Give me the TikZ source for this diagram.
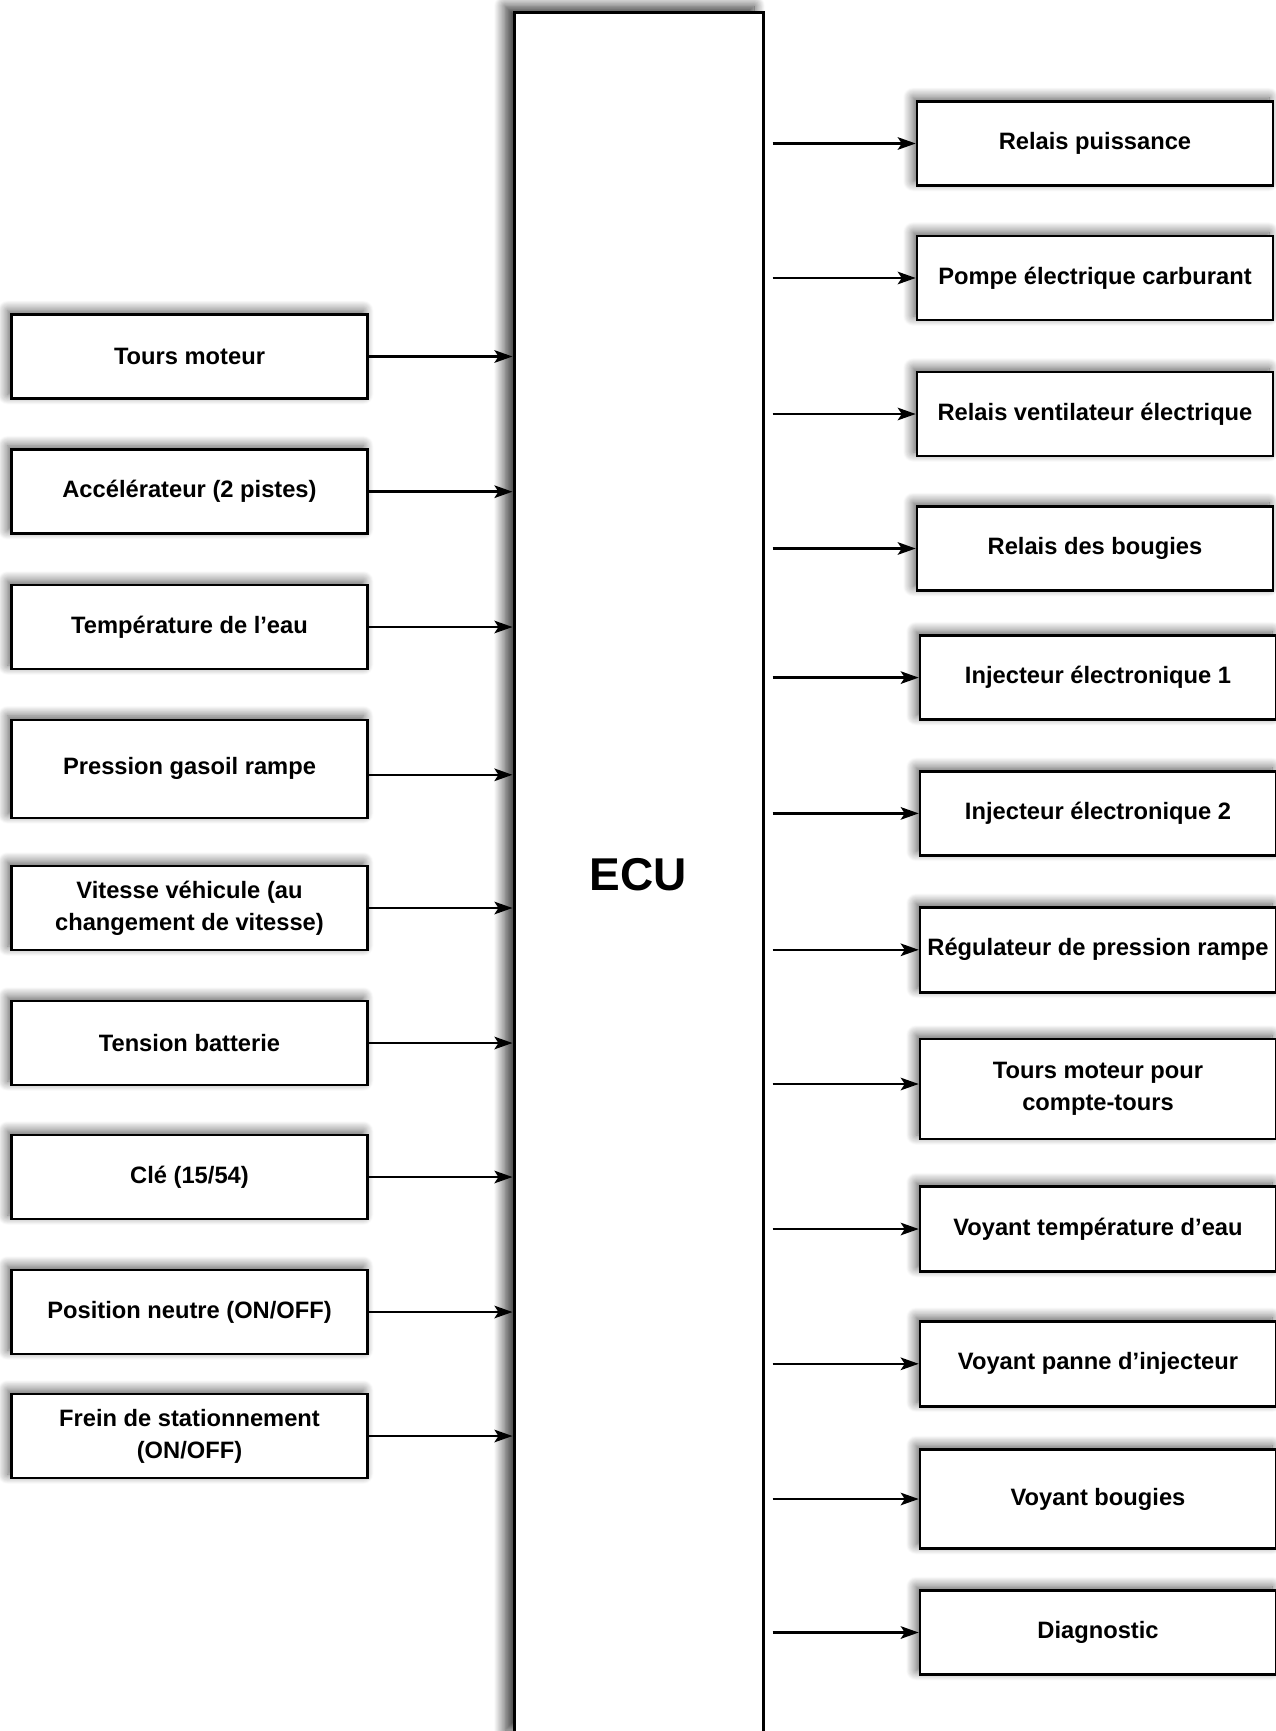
\documentclass[tikz,border=0pt]{standalone}
\usepackage{fontspec}
\setmainfont{Liberation Sans}
\usetikzlibrary{arrows.meta,shadows.blur,calc}
\begin{document}
\begin{tikzpicture}[x=1pt,y=-1pt,
  shad/.style={blur shadow={shadow xshift=-4pt,shadow yshift=4pt,shadow blur radius=10pt,shadow blur steps=14,shadow opacity=65}},
  box/.style={draw,line width=2.5pt,fill=white,shad,minimum width=356pt,minimum height=84pt,
    inner sep=0pt,align=center,font=\fontsize{23.7}{32}\selectfont\bfseries},
  ecubox/.style={draw,line width=3pt,fill=white,
    blur shadow={shadow xshift=-9pt,shadow yshift=7pt,shadow blur radius=11pt,shadow blur steps=14,shadow opacity=80},
    minimum width=249pt,minimum height=1724pt,inner sep=0pt,font=\fontsize{46}{50}\selectfont\bfseries},
  conn/.style={line width=2.5pt,-{Stealth[length=18pt,width=12.5pt,inset=4pt]}}]
\useasboundingbox (0,0) rectangle (1275,1731);
\node[ecubox] (ecu) at (638.5,875) {ECU};
% inputs
\node[box] (L1) at (189.5,356.5) {Tours moteur};
\node[box] (L2) at (189.5,491.7) {Accélérateur (2 pistes)};
\node[box] (L3) at (189.5,627) {Température de l’eau};
\node[box,minimum height=98pt] (L4) at (189.5,768.8) {Pression gasoil rampe};
\node[box] (L5) at (189.5,908) {Vitesse véhicule (au\\changement de vitesse)};
\node[box] (L6) at (189.5,1043) {Tension batterie};
\node[box] (L7) at (189.5,1177) {Clé (15/54)};
\node[box] (L8) at (189.5,1312) {Position neutre (ON/OFF)};
\node[box] (L9) at (189.5,1436) {Frein de stationnement\\(ON/OFF)};
% outputs
\node[box] (R1) at (1095,143.5) {Relais puissance};
\node[box] (R2) at (1095,278) {Pompe électrique carburant};
\node[box] (R3) at (1095,414) {Relais ventilateur électrique};
\node[box] (R4) at (1095,548.5) {Relais des bougies};
\node[box] (R5) at (1098,677.6) {Injecteur électronique 1};
\node[box] (R6) at (1098,813.4) {Injecteur électronique 2};
\node[box,minimum height=85pt] (R7) at (1098,949.8) {Régulateur de pression rampe};
\node[box,minimum height=100pt] (R8) at (1098,1089) {Tours moteur pour\\compte-tours};
\node[box,minimum height=85pt] (R9) at (1098,1229) {Voyant température d’eau};
\node[box,minimum height=85pt] (R10) at (1098,1363.8) {Voyant panne d’injecteur};
\node[box,minimum height=99pt] (R11) at (1098,1499) {Voyant bougies};
\node[box] (R12) at (1098,1632.5) {Diagnostic};
% input connectors
\foreach \n in {L1,L2,L3,L5,L6,L7,L8,L9}
  \draw[conn] (\n.east) -- (\n.east -| ecu.west);
\draw[conn] ([yshift=-6pt]L4.east) -- ([yshift=-6pt]L4.east -| ecu.west);
% output connectors
\foreach \n in {R1,R2,R3,R4,R5,R6,R7,R9,R10,R11,R12}
  \draw[conn] ($(ecu.east |- \n.west)+(8,0)$) -- (\n.west);
\draw[conn] ($(ecu.east |- R8.west)+(8,-5)$) -- ([yshift=5pt]R8.west);
\end{tikzpicture}
\end{document}
